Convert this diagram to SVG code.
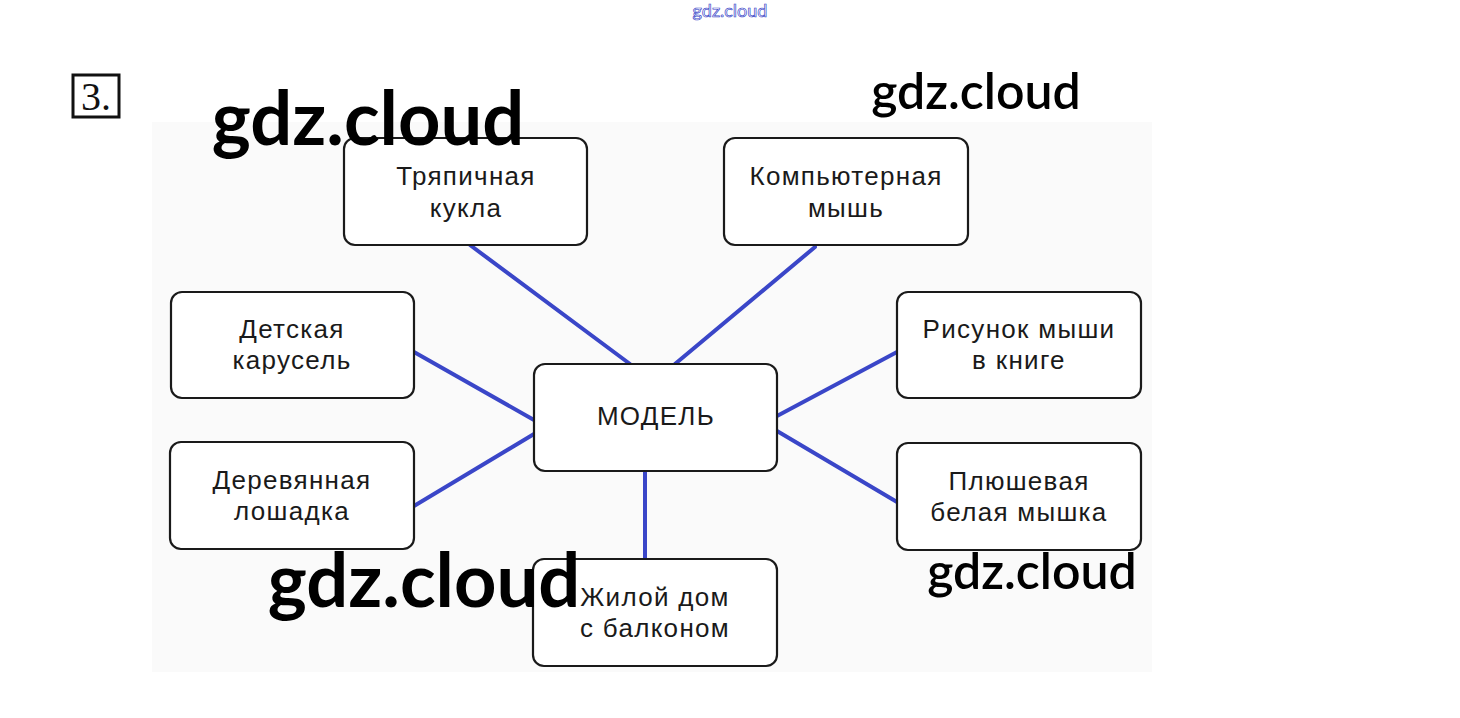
<svg xmlns="http://www.w3.org/2000/svg" width="1460" height="718" viewBox="0 0 1460 718">
<style>
.box{fill:#ffffff;stroke:#1a1a1a;stroke-width:2.2}
.lbl{font-family:"Liberation Sans",Arial,sans-serif;font-size:26px;fill:#1a1a1a;text-anchor:middle;letter-spacing:1.3px}
.con{stroke:#3a46c8;stroke-width:4;stroke-linecap:round}
.wm{font-family:Lato,"Open Sans",sans-serif;font-weight:bold;fill:#000000}
.wm2{font-family:Lato,"Open Sans",sans-serif;font-weight:600;fill:#000000}
</style>
<rect width="1460" height="718" fill="#ffffff"/>
<rect x="152" y="122" width="1000" height="550" fill="#fafafa"/>
<text x="730" y="17" font-family="Lato,sans-serif" font-size="18" fill="#ffffff" stroke="#3a46c8" stroke-width="0.7" text-anchor="middle">gdz.cloud</text>
<g id="num">
<rect x="73" y="75" width="46" height="42" fill="#ffffff" stroke="#111" stroke-width="3"/>
<text x="96" y="110" font-family="Liberation Serif,serif" font-size="40" fill="#111" text-anchor="middle">3.</text>
</g>
<g id="connectors">
<line class="con" x1="470" y1="245" x2="630" y2="364"/>
<line class="con" x1="815" y1="247" x2="675" y2="364"/>
<line class="con" x1="414" y1="352" x2="534" y2="420"/>
<line class="con" x1="897" y1="352" x2="777" y2="416"/>
<line class="con" x1="414" y1="506" x2="534" y2="434"/>
<line class="con" x1="897" y1="502" x2="777" y2="431"/>
<line class="con" x1="645" y1="471" x2="645" y2="559"/>
</g>
<g id="n1"><rect class="box" x="344" y="138" width="243" height="107" rx="11"/><text class="lbl" x="466" y="185">Тряпичная</text><text class="lbl" x="466" y="217">кукла</text></g>
<g id="n2"><rect class="box" x="724" y="138" width="244" height="107" rx="11"/><text class="lbl" x="846" y="185">Компьютерная</text><text class="lbl" x="846" y="217">мышь</text></g>
<g id="n3"><rect class="box" x="171" y="292" width="243" height="106" rx="11"/><text class="lbl" x="292" y="338">Детская</text><text class="lbl" x="292" y="369">карусель</text></g>
<g id="n4"><rect class="box" x="897" y="292" width="244" height="106" rx="11"/><text class="lbl" x="1019" y="338">Рисунок мыши</text><text class="lbl" x="1019" y="369">в книге</text></g>
<g id="center"><rect class="box" x="534" y="364" width="243" height="107" rx="11"/><text class="lbl" x="656" y="425">МОДЕЛЬ</text></g>
<g id="n5"><rect class="box" x="170" y="442" width="244" height="107" rx="11"/><text class="lbl" x="292" y="489">Деревянная</text><text class="lbl" x="292" y="520">лошадка</text></g>
<g id="n6"><rect class="box" x="897" y="443" width="244" height="107" rx="11"/><text class="lbl" x="1019" y="490">Плюшевая</text><text class="lbl" x="1019" y="521">белая мышка</text></g>
<g id="n7"><rect class="box" x="533" y="559" width="244" height="107" rx="11"/><text class="lbl" x="655" y="606">Жилой дом</text><text class="lbl" x="655" y="637">с балконом</text></g>
<g id="watermarks">
<text class="wm" x="368" y="145" font-size="74" text-anchor="middle">gdz.cloud</text>
<text class="wm2" x="976" y="109" font-size="50" text-anchor="middle">gdz.cloud</text>
<text class="wm" x="424" y="607" font-size="74" text-anchor="middle">gdz.cloud</text>
<text class="wm2" x="1032" y="589" font-size="50" text-anchor="middle">gdz.cloud</text>
</g>
</svg>
